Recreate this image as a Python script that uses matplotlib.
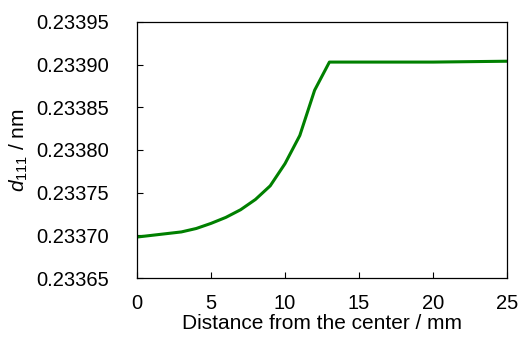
import numpy as np
import matplotlib
matplotlib.use("Agg")
import matplotlib.pyplot as plt

plt.rcParams['font.family'] = ['Liberation Sans', 'DejaVu Sans']
plt.rcParams['mathtext.fontset'] = 'custom'
plt.rcParams['mathtext.rm'] = 'Liberation Sans'
plt.rcParams['mathtext.it'] = 'Liberation Sans:italic'

# distance from the center (mm) and lattice spacing d111 (nm)
distance = [0, 1, 2, 3, 4, 5, 6, 7, 8, 9, 10, 11, 12, 13, 16, 20, 25]
d111 = [0.233698, 0.233700, 0.233702, 0.233704, 0.233708, 0.233714,
        0.233721, 0.233730, 0.233742, 0.233758, 0.233784, 0.233817,
        0.233870, 0.233903, 0.233903, 0.233903, 0.233904]

xticks = [0, 5, 10, 15, 20, 25]
yticks = [0.23365, 0.23370, 0.23375, 0.23380, 0.23385, 0.23390, 0.23395]

fig = plt.figure(figsize=(5.2, 3.38), dpi=100)
ax = fig.add_axes([0.2635, 0.1775, 0.7115, 0.7575])
ax.plot(distance, d111, color='#008000', linewidth=2.2)

ax.set_xlim(0, 25)
ax.set_ylim(0.23365, 0.23395)
ax.set_xticks(xticks)
ax.set_yticks(yticks)
ax.set_yticklabels([f"{v:.5f}" for v in yticks])
ax.tick_params(direction='in', length=4, width=0.8, labelsize=14.5)
ax.tick_params(axis='x', pad=11.5)
ax.tick_params(axis='y', pad=20)
for s in ax.spines.values():
    s.set_linewidth(0.9)

ax.set_xlabel("Distance from the center / mm", fontsize=15, labelpad=1)
ax.set_ylabel("$d_{111}$ / nm", fontsize=15, labelpad=5)

fig.savefig("out.png", dpi=100)
